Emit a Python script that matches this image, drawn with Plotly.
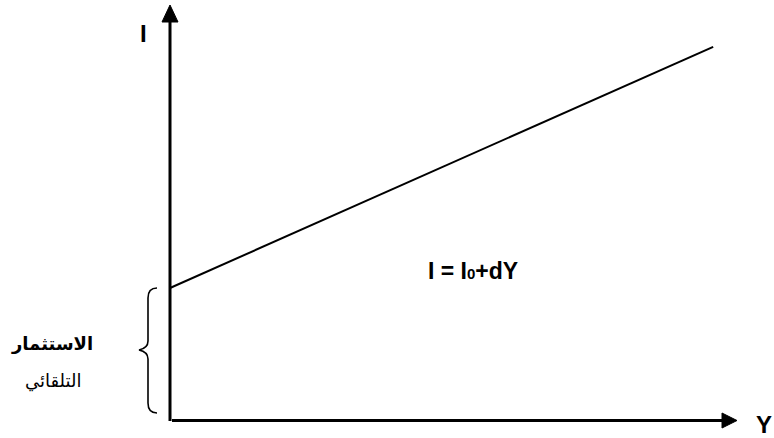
import plotly.graph_objects as go

# Data (schematic investment function I = I0 + dY)
Y_values = [0, 10]
I_values = [3.3, 9.33]
x_label = "Y"
y_label = "I"
brace_label_1 = "الاستثمار"
brace_label_2 = "التلقائي"

W, H = 774, 438
# axis ranges (data units)
XMIN, XMAX = -3.13, 11.12
YMIN, YMAX = -0.45, 10.5


def px2x(p):
    return XMIN + p / W * (XMAX - XMIN)


def py2y(p):
    return YMAX - p / H * (YMAX - YMIN)


def P(px, py):
    return f"{px2x(px):.4f},{py2y(py):.4f}"


fig = go.Figure()
fig.add_trace(go.Scatter(x=Y_values, y=I_values, mode="lines",
                         line=dict(color="black", width=2), hoverinfo="skip",
                         showlegend=False))

shapes = []
# vertical axis
shapes.append(dict(type="line", xref="x", yref="y", x0=px2x(170), x1=px2x(170),
                   y0=py2y(421), y1=py2y(20), line=dict(color="black", width=3)))
# horizontal axis
shapes.append(dict(type="line", xref="x", yref="y", x0=px2x(172), x1=px2x(724),
                   y0=py2y(420.5), y1=py2y(420.5), line=dict(color="black", width=3)))
# arrowheads
shapes.append(dict(type="path", xref="x", yref="y",
                   path=f"M{P(170,5)} L{P(162,22)} L{P(178,22)} Z",
                   fillcolor="black", line=dict(color="black", width=1)))
shapes.append(dict(type="path", xref="x", yref="y",
                   path=f"M{P(737,420.5)} L{P(722,413)} L{P(722,428)} Z",
                   fillcolor="black", line=dict(color="black", width=1)))
# brace
brace = (f"M{P(157,288)} C{P(151,288)} {P(148,291)} {P(148,298)} L{P(148,341)} "
         f"C{P(148,347)} {P(144,349)} {P(139,350)} C{P(144,351)} {P(148,353)} {P(148,359)} "
         f"L{P(148,403)} C{P(148,410)} {P(151,413)} {P(157,413)}")
shapes.append(dict(type="path", xref="x", yref="y", path=brace,
                   line=dict(color="black", width=1.6)))

bold_font = dict(size=24, family="Liberation Sans", color="black", weight="bold")
ann = [
    dict(x=143 / W, y=1 - 34 / H, text=f"<b>{y_label}</b>", font=bold_font,
         xanchor="center", yanchor="middle"),
    dict(x=774 / W, y=1 - 424 / H, text=f"<b>{x_label}</b>", font=bold_font,
         xanchor="right", yanchor="middle"),
    dict(x=473 / W, y=1 - 271 / H,
         text="<b>I = I<span style='font-size:15px'>0</span>+dY</b>",
         font=dict(size=23, family="Liberation Sans", color="black", weight="bold"),
         xanchor="center", yanchor="middle"),
    dict(x=52 / W, y=1 - 343 / H, text=f"<b>{brace_label_1}</b>",
         font=dict(size=18, family="DejaVu Sans", color="black", weight="bold"),
         xanchor="center", yanchor="middle"),
    dict(x=53 / W, y=1 - 381 / H, text=brace_label_2,
         font=dict(size=18, family="DejaVu Sans", color="black"),
         xanchor="center", yanchor="middle"),
]
for a in ann:
    a.update(xref="paper", yref="paper", showarrow=False)

fig.update_layout(
    width=W, height=H, margin=dict(l=0, r=0, t=0, b=0),
    paper_bgcolor="white", plot_bgcolor="white",
    xaxis=dict(range=[XMIN, XMAX], visible=False, fixedrange=True),
    yaxis=dict(range=[YMIN, YMAX], visible=False, fixedrange=True),
    shapes=shapes, annotations=ann, showlegend=False,
)
fig.write_html("out.html", config={"displayModeBar": False},
               post_script="document.body.style.margin='0';document.body.style.overflow='hidden';")
